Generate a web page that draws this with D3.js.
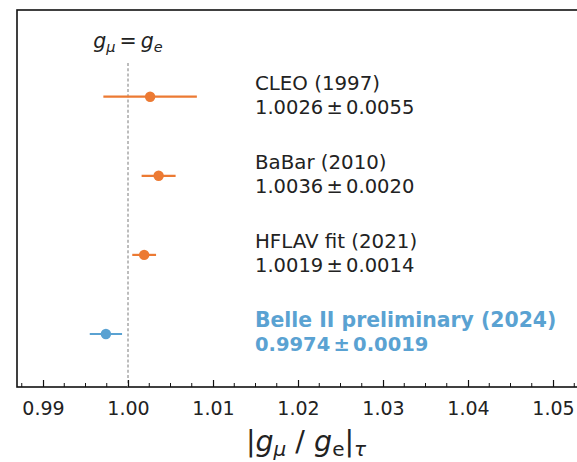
<!DOCTYPE html>
<html>
<head>
<meta charset="utf-8">
<script src="https://cdn.jsdelivr.net/npm/d3@7"></script>
<style>
  html, body { margin: 0; padding: 0; background: #fff; }
  svg { display: block; font-family: "DejaVu Sans", sans-serif; }
</style>
</head>
<body>
<svg id="chart" width="577" height="462"></svg>
<script>
// ---- data ----
const experiments = ["CLEO (1997)", "BaBar (2010)", "HFLAV fit (2021)", "Belle II preliminary (2024)"];
const centralValues = [1.0026, 1.0036, 1.0019, 0.9974];
const uncertainties = [0.0055, 0.0020, 0.0014, 0.0019];
const valueLabels = ["1.0026\u2006\u00b1\u20060.0055", "1.0036\u2006\u00b1\u20060.0020", "1.0019\u2006\u00b1\u20060.0014", "0.9974\u2006\u00b1\u20060.0019"];
const highlighted = [false, false, false, true];
const majorTicks = [0.99, 1.00, 1.01, 1.02, 1.03, 1.04, 1.05];
const tickLabels = ["0.99", "1.00", "1.01", "1.02", "1.03", "1.04", "1.05"];
const referenceValue = 1.0;

const orange = "#ec7a33";
const blue = "#5aa2d2";

const svg = d3.select("#chart");
const mLeft = 17, mRight = 595, mTop = 10, mBottom = 387;

const x = d3.scaleLinear().domain([0.98694, 1.05494]).range([mLeft, mRight]);
const y = d3.scaleLinear().domain([0, experiments.length - 1]).range([96.7, 334]);

// frame
svg.append("rect")
  .attr("x", mLeft).attr("y", mTop)
  .attr("width", mRight - mLeft).attr("height", mBottom - mTop)
  .attr("fill", "none").attr("stroke", "#111").attr("stroke-width", 1.6);

// reference dashed line
svg.append("line")
  .attr("x1", x(referenceValue)).attr("x2", x(referenceValue))
  .attr("y1", 63).attr("y2", mBottom)
  .attr("stroke", "#999").attr("stroke-width", 1.3)
  .attr("stroke-dasharray", "3,2.2");

// reference label g_mu = g_e
const refText = svg.append("text")
  .attr("x", x(referenceValue)).attr("y", 48)
  .attr("text-anchor", "middle")
  .attr("font-size", 20.5).attr("fill", "#222");
refText.append("tspan").attr("font-style", "italic").text("g");
refText.append("tspan").attr("font-style", "italic").attr("font-size", 14.5).attr("dy", 4).text("\u03bc");
refText.append("tspan").attr("dy", -4).text("\u2009=\u2009");
refText.append("tspan").attr("font-style", "italic").text("g");
refText.append("tspan").attr("font-style", "italic").attr("font-size", 14.5).attr("dy", 4).text("e");

// x axis (ticks inward)
const xAxis = d3.axisBottom(x)
  .tickValues(majorTicks)
  .tickFormat((d, i) => tickLabels[i])
  .tickSizeInner(-7).tickSizeOuter(0).tickPadding(15);
const gx = svg.append("g").attr("transform", `translate(0,${mBottom})`).call(xAxis);
gx.select(".domain").remove();
gx.selectAll(".tick line").attr("stroke", "#111").attr("stroke-width", 1.2);
gx.selectAll(".tick text").attr("font-size", 19).attr("fill", "#222").attr("font-family", "DejaVu Sans, sans-serif");

// minor ticks
const minor = d3.range(0.9875, 1.0549, 0.0025).filter(v => !majorTicks.some(m => Math.abs(m - v) < 1e-6) && x(v) > mLeft + 1);
svg.append("g").selectAll("line").data(minor).join("line")
  .attr("x1", d => x(d)).attr("x2", d => x(d))
  .attr("y1", mBottom).attr("y2", mBottom - 4)
  .attr("stroke", "#111").attr("stroke-width", 1);

// error bars
const rows = experiments.map((name, i) => ({
  name, v: centralValues[i], e: uncertainties[i], label: valueLabels[i], hl: highlighted[i], i
}));

svg.append("g").selectAll("line").data(rows).join("line")
  .attr("x1", d => x(d.v - d.e)).attr("x2", d => x(d.v + d.e))
  .attr("y1", d => y(d.i)).attr("y2", d => y(d.i))
  .attr("stroke", d => d.hl ? blue : orange).attr("stroke-width", 2.2);

svg.append("g").selectAll("circle").data(rows).join("circle")
  .attr("cx", d => x(d.v)).attr("cy", d => y(d.i)).attr("r", 5.2)
  .attr("fill", d => d.hl ? blue : orange);

// annotations
const ann = svg.append("g").selectAll("g").data(rows).join("g");
ann.append("text")
  .attr("x", 255).attr("y", d => y(d.i) - 7)
  .attr("font-size", d => d.hl ? 20.4 : 19.8)
  .attr("font-weight", d => d.hl ? "bold" : "normal")
  .attr("fill", d => d.hl ? blue : "#222")
  .text(d => d.name);
ann.append("text")
  .attr("x", 255).attr("y", d => y(d.i) + 17)
  .attr("font-size", 19.5)
  .attr("font-weight", d => d.hl ? "bold" : "normal")
  .attr("fill", d => d.hl ? blue : "#222")
  .text(d => d.label);

// x axis title |g_mu / g_e|_tau
const title = svg.append("text")
  .attr("x", (mLeft + mRight) / 2).attr("y", 451)
  .attr("text-anchor", "middle")
  .attr("font-size", 28.5).attr("fill", "#222");
title.append("tspan").text("|");
title.append("tspan").attr("font-style", "italic").text("g");
title.append("tspan").attr("font-style", "italic").attr("font-size", 20).attr("dy", 5).text("\u03bc");
title.append("tspan").attr("dy", -5).text(" / ");
title.append("tspan").attr("font-style", "italic").text("g");
title.append("tspan").attr("font-size", 20).attr("dy", 5).text("e");
title.append("tspan").attr("dy", -5).text("|");
title.append("tspan").attr("font-style", "italic").attr("font-size", 20).attr("dy", 5).text("\u03c4");
</script>
</body>
</html>
